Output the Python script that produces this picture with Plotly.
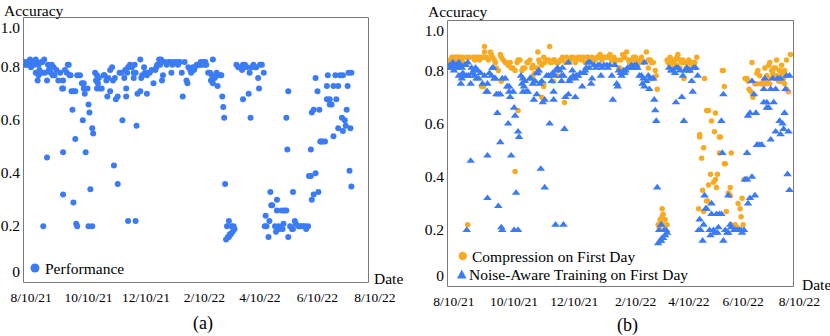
import pandas as pd
import plotly.graph_objects as go

# ---- data (day offsets from 8/10/21, accuracy) ----
START = pd.Timestamp("2021-08-10")

PERF_DAY = [
    -6, -4, -2, 0, 1, 2, 3, 4, 0, -3,
    -5, 6, 8, 11, 12, 5, 9, 10, 8, 13,
    7, 15, 17, 18, 20, 22, 24, 23, 25, 27,
    29, 31, 33, 34, 34, 36, 38, 40, 39, 41,
    42, 43, 45, 44, 47, 49, 52, 54, 56, 56,
    57, 60, 61, 62, 55, 65, 66, 47, 58, 34,
    17, 68, 70, 69, 70, 73, 75, 71, 72, 77,
    78, 80, 81, 82, 84, 86, 84, 87, 89, 90,
    92, 94, 96, 97, 101, 102, 99, 101, 103, 105,
    107, 109, 109, 110, 111, 112, 113, 116, 117, 118,
    120, 121, 123, 123, 124, 126, 128, 130, 132, 133,
    134, 136, 137, 139, 140, 142, 144, 146, 148, 149,
    150, 152, 155, 156, 158, 160, 161, 163, 165, 166,
    167, 169, 170, 172, 173, 174, 176, 178, 179, 180,
    181, 183, 184, 185, 186, 188, 190, 192, 191, 193,
    193, 195, 197, 198, 199, 201, 202, 203, 204, 205,
    218, 220, 222, 224, 225, 225, 227, 229, 231, 232,
    233, 234, 236, 238, 239, 241, 242, 243, 245, 247,
    271, 272, 273, 297, 298, 300, 302, 304, 306, 307,
    308, 310, 312, 314, 314, 315, 317, 317, 319, 321,
    321, 323, 324, 326, 326, 328, 330, 331, 331, 333,
    334, 335, 336, 337, 339, 340, 116, 138, 13, 34,
    45, 48, 49, 61, 65, 63, 88, 92, 103, 111,
    206, 208, 210, 209, 210, 212, 213, 215, 216, 214,
    211, 207, 248, 249, 250, 254, 252, 253, 255, 256,
    259, 260, 261, 261, 263, 264, 266, 267, 268, 269,
    271, 273, 275, 277, 278, 278, 280, 281, 284, 285,
    287, 289, 291, 292, 294, 295, 297, 298, 300, 302,
    305, 338, 340, -7, -1, 5, 14, 19, 21, 100,
]
PERF_ACC = [
    0.82, 0.83, 0.83, 0.83, 0.82, 0.83, 0.83, 0.82, 0.81, 0.82,
    0.82, 0.83, 0.82, 0.83, 0.83, 0.79, 0.80, 0.79, 0.78, 0.79,
    0.76, 0.79, 0.76, 0.82, 0.81, 0.82, 0.81, 0.78, 0.78, 0.80,
    0.76, 0.79, 0.73, 0.73, 0.76, 0.80, 0.79, 0.82, 0.82, 0.78,
    0.78, 0.72, 0.72, 0.65, 0.72, 0.78, 0.78, 0.75, 0.75, 0.73,
    0.71, 0.73, 0.67, 0.64, 0.61, 0.58, 0.56, 0.54, 0.49, 0.49,
    0.47, 0.79, 0.78, 0.76, 0.73, 0.73, 0.73, 0.75, 0.77, 0.78,
    0.78, 0.76, 0.70, 0.77, 0.80, 0.81, 0.72, 0.76, 0.77, 0.69,
    0.70, 0.79, 0.79, 0.61, 0.73, 0.79, 0.77, 0.70, 0.81, 0.82,
    0.81, 0.79, 0.77, 0.82, 0.79, 0.59, 0.71, 0.72, 0.77, 0.78,
    0.81, 0.79, 0.78, 0.71, 0.79, 0.79, 0.80, 0.75, 0.80, 0.81,
    0.82, 0.84, 0.82, 0.76, 0.78, 0.83, 0.82, 0.83, 0.83, 0.79,
    0.82, 0.83, 0.83, 0.82, 0.83, 0.79, 0.70, 0.83, 0.76, 0.75,
    0.81, 0.80, 0.79, 0.81, 0.80, 0.81, 0.82, 0.82, 0.82, 0.83,
    0.82, 0.83, 0.82, 0.83, 0.82, 0.79, 0.79, 0.78, 0.76, 0.84,
    0.75, 0.77, 0.79, 0.74, 0.78, 0.78, 0.78, 0.70, 0.66, 0.62,
    0.82, 0.81, 0.81, 0.80, 0.69, 0.82, 0.82, 0.81, 0.71, 0.79,
    0.62, 0.81, 0.82, 0.81, 0.81, 0.77, 0.73, 0.82, 0.82, 0.79,
    0.62, 0.50, 0.72, 0.50, 0.64, 0.65, 0.77, 0.72, 0.65, 0.53,
    0.53, 0.53, 0.53, 0.69, 0.74, 0.78, 0.67, 0.69, 0.67, 0.55,
    0.74, 0.78, 0.69, 0.74, 0.58, 0.78, 0.62, 0.78, 0.57, 0.61,
    0.59, 0.65, 0.74, 0.79, 0.58, 0.79, 0.84, 0.84, 0.21, 0.33,
    0.30, 0.22, 0.21, 0.21, 0.21, 0.35, 0.44, 0.37, 0.23, 0.23,
    0.37, 0.21, 0.23, 0.17, 0.17, 0.18, 0.21, 0.21, 0.20, 0.19,
    0.18, 0.16, 0.21, 0.25, 0.21, 0.34, 0.17, 0.23, 0.29, 0.29,
    0.21, 0.19, 0.31, 0.27, 0.21, 0.20, 0.27, 0.20, 0.22, 0.27,
    0.27, 0.17, 0.21, 0.20, 0.34, 0.20, 0.23, 0.22, 0.21, 0.21,
    0.21, 0.21, 0.21, 0.20, 0.21, 0.40, 0.40, 0.31, 0.33, 0.41,
    0.34, 0.42, 0.36, 0.83, 0.84, 0.84, 0.84, 0.80, 0.79, 0.80,
]

COMP_DAY = [
    -6, -4, -2, -1, 1, 3, 4, 6, 8, 9,
    -2, 1, 5, 9, 13, 16, 20, 21, 23, 25,
    26, 28, 30, 31, 31, 33, 35, 37, 38, 39,
    41, 42, 43, 45, 47, 48, 50, 52, 53, 55,
    57, 58, 60, 62, 64, 65, 67, 69, 70, 72,
    74, 75, 77, 79, 80, 82, 84, 85, 86, 87,
    89, 91, 92, 94, 96, 97, 98, 99, 101, 102,
    104, 106, 108, 109, 110, 113, 114, 116, 118, 119,
    121, 123, 124, 126, 128, 129, 131, 133, 135, 136,
    138, 140, 141, 143, 145, 146, 148, 150, 151, 153,
    155, 157, 158, 160, 162, 163, 165, 167, 168, 169,
    171, 173, 175, 177, 178, 180, 182, 184, 185, 187,
    189, 190, 192, 195, 197, 199, 200, 202, 197, 204,
    205, 206, 6, 28, 30, 48, 65, 80, 82, 86,
    89, 91, 91, 97, 101, 105, 112, 168, 14, 62,
    216, 217, 219, 221, 222, 224, 226, 227, 229, 231,
    232, 234, 236, 238, 239, 241, 243, 244, 246, 219,
    222, 226, 229, 236, 239, 233, 239, 254, 256, 258,
    265, 261, 249, 249, 253, 251, 264, 269, 270, 274,
    269, 281, 274, 272, 273, 295, 297, 298, 299, 301,
    303, 302, 305, 307, 307, 308, 310, 312, 314, 315,
    317, 319, 320, 322, 324, 325, 327, 329, 330, 332,
    334, 335, 337, 339, 341, 337, 323, 320, 315, 311,
    317, 324, 328, 331, 333, 335, 319, 326, 207, 209,
    211, 211, 212, 214, 216, 212, 209, 208, 260, 265,
    267, 263, 258, 266, 275, 252, 256, 248, 253, 257,
    276, 278, 280, 280, 288, 290, 291, 292, 294, 281,
    285, 287, 293,
]
COMP_ACC = [
    0.84, 0.85, 0.86, 0.86, 0.86, 0.86, 0.86, 0.86, 0.85, 0.86,
    0.84, 0.84, 0.85, 0.84, 0.86, 0.86, 0.86, 0.85, 0.86, 0.86,
    0.85, 0.86, 0.86, 0.88, 0.90, 0.86, 0.85, 0.88, 0.87, 0.86,
    0.85, 0.84, 0.82, 0.81, 0.87, 0.86, 0.85, 0.84, 0.84, 0.83,
    0.84, 0.82, 0.82, 0.81, 0.84, 0.85, 0.85, 0.81, 0.82, 0.82,
    0.84, 0.84, 0.85, 0.82, 0.83, 0.80, 0.82, 0.88, 0.85, 0.84,
    0.83, 0.86, 0.84, 0.85, 0.85, 0.90, 0.84, 0.84, 0.85, 0.85,
    0.84, 0.84, 0.85, 0.85, 0.86, 0.84, 0.86, 0.84, 0.85, 0.86,
    0.86, 0.84, 0.85, 0.86, 0.86, 0.85, 0.86, 0.84, 0.86, 0.86,
    0.85, 0.86, 0.85, 0.85, 0.86, 0.86, 0.87, 0.85, 0.86, 0.86,
    0.86, 0.86, 0.87, 0.85, 0.86, 0.84, 0.85, 0.82, 0.82, 0.85,
    0.87, 0.86, 0.88, 0.85, 0.84, 0.85, 0.86, 0.86, 0.85, 0.84,
    0.85, 0.86, 0.84, 0.88, 0.85, 0.85, 0.84, 0.84, 0.82, 0.81,
    0.79, 0.74, 0.79, 0.75, 0.75, 0.77, 0.66, 0.79, 0.77, 0.80,
    0.71, 0.75, 0.76, 0.79, 0.77, 0.79, 0.69, 0.81, 0.23, 0.43,
    0.85, 0.84, 0.86, 0.85, 0.84, 0.85, 0.86, 0.87, 0.85, 0.84,
    0.85, 0.84, 0.84, 0.85, 0.84, 0.84, 0.83, 0.84, 0.86, 0.83,
    0.82, 0.83, 0.82, 0.82, 0.82, 0.78, 0.81, 0.78, 0.66, 0.66,
    0.65, 0.62, 0.57, 0.56, 0.52, 0.48, 0.58, 0.56, 0.56, 0.75,
    0.50, 0.50, 0.46, 0.81, 0.81, 0.78, 0.78, 0.77, 0.74, 0.73,
    0.71, 0.84, 0.76, 0.76, 0.80, 0.81, 0.79, 0.76, 0.77, 0.82,
    0.79, 0.83, 0.84, 0.81, 0.82, 0.78, 0.85, 0.77, 0.81, 0.83,
    0.78, 0.76, 0.74, 0.73, 0.87, 0.85, 0.80, 0.76, 0.76, 0.76,
    0.76, 0.79, 0.79, 0.77, 0.80, 0.81, 0.78, 0.82, 0.23, 0.24,
    0.26, 0.29, 0.27, 0.25, 0.23, 0.23, 0.25, 0.22, 0.42, 0.40,
    0.42, 0.39, 0.38, 0.37, 0.46, 0.36, 0.32, 0.29, 0.28, 0.32,
    0.28, 0.35, 0.37, 0.34, 0.31, 0.29, 0.26, 0.33, 0.40, 0.23,
    0.23, 0.22, 0.23,
]

TICK_LABELS = ["8/10/21", "10/10/21", "12/10/21", "2/10/22", "4/10/22", "6/10/22", "8/10/22"]
TICK_DAYS_A = [0, 61, 122, 184, 243, 304, 365]
# panel (b) labels sit where the original drew them
TICK_DAYS_B = [0, 61, 122, 184, 238, 293, 350]
Y_TICKS = [0, 0.2, 0.4, 0.6, 0.8, 1.0]
Y_LABELS = ["0", "0.2", "0.4", "0.6", "0.8", "1.0"]

# ---- styling ----
W, H = 830, 336
FONT = "Liberation Serif"
BLUE = "#3B7BF6"
ORANGE = "#F8AB22"
FRAME = "#7a7a7a"


def d2t(d):
    return (START + pd.to_timedelta(d, unit="D")).isoformat()


def px(x):
    return x / W


def py(y):
    return 1 - y / H


def dates(days):
    return START + pd.to_timedelta(days, unit="D")


fig = go.Figure()
fig.add_trace(go.Scatter(x=dates(PERF_DAY), y=PERF_ACC, mode="markers", xaxis="x", yaxis="y",
                         marker=dict(color=BLUE, size=6, line=dict(width=0)), name="Performance"))
fig.add_trace(go.Scatter(x=dates(COMP_DAY), y=COMP_ACC, mode="markers", xaxis="x2", yaxis="y2",
                         marker=dict(color=ORANGE, size=5.5, line=dict(width=0)),
                         name="Compression on First Day"))
fig.add_trace(go.Scatter(x=dates(PERF_DAY), y=PERF_ACC, mode="markers", xaxis="x2", yaxis="y2",
                         marker=dict(color=BLUE, size=7.5, symbol="triangle-up", line=dict(width=0)),
                         name="Noise-Aware Training on First Day"))
# empty traces so the overlay axes carrying the end labels get drawn
for xa, ya_name in (("x", "y3"), ("x", "y4"), ("x2", "y5"), ("x2", "y6")):
    fig.add_trace(go.Scatter(x=[], y=[], xaxis=xa, yaxis=ya_name, mode="markers",
                             showlegend=False, hoverinfo="skip"))

xcommon = dict(type="date", showgrid=False, zeroline=False, showline=False, ticks="",
               automargin=False, ticklabelstandoff=5,
               tickfont=dict(family=FONT, size=13.5, color="black"), ticktext=TICK_LABELS)
ycommon = dict(range=[0, 1], showgrid=False, zeroline=False, showline=False, ticks="",
               automargin=False, ticklabelstandoff=2,
               tickfont=dict(family=FONT, size=15.5, color="black"))

Y_DOM_A = [py(282), py(17)]
Y_DOM_B = [py(286), py(20)]


def y_axes(dom, anchor, overlay):
    # middle labels on the main axis; end labels tucked inside the frame on overlays
    main = dict(ycommon, domain=dom, anchor=anchor, tickvals=Y_TICKS[1:-1],
                ticktext=Y_LABELS[1:-1], ticklabelshift=-3)
    low = dict(ycommon, domain=dom, anchor=anchor, overlaying=overlay, tickvals=Y_TICKS[:1],
               ticktext=Y_LABELS[:1], ticklabelposition="outside top")
    high = dict(ycommon, domain=dom, anchor=anchor, overlaying=overlay, tickvals=Y_TICKS[-1:],
                ticktext=Y_LABELS[-1:], ticklabelposition="outside bottom")
    return main, low, high


ya, ya_lo, ya_hi = y_axes(Y_DOM_A, "x", "y")
yb, yb_lo, yb_hi = y_axes(Y_DOM_B, "x2", "y2")

fig.update_layout(
    width=W, height=H, margin=dict(l=0, r=0, t=0, b=0, autoexpand=False),
    paper_bgcolor="white", plot_bgcolor="white", showlegend=False,
    font=dict(family=FONT, color="black"),
    xaxis=dict(xcommon, domain=[px(23), px(392)], range=[d2t(-8.5), d2t(383.1)],
               tickvals=[d2t(d) for d in TICK_DAYS_A], anchor="y"),
    yaxis=ya, yaxis3=ya_lo, yaxis4=ya_hi,
    xaxis2=dict(xcommon, domain=[px(447), px(825)], range=[d2t(-7.0), d2t(376.0)],
                tickvals=[d2t(d) for d in TICK_DAYS_B], anchor="y2"),
    yaxis2=yb, yaxis5=yb_lo, yaxis6=yb_hi,
)

shapes = [
    dict(type="rect", xref="paper", yref="paper", layer="above",
         x0=px(23.5), x1=px(368.5), y0=py(282.5), y1=py(17.5), line=dict(color=FRAME, width=1)),
    dict(type="rect", xref="paper", yref="paper", layer="above",
         x0=px(447.5), x1=px(793.5), y0=py(286.5), y1=py(20.5), line=dict(color=FRAME, width=1)),
    # legend markers
    dict(type="circle", xref="paper", yref="paper", x0=px(30.5), x1=px(39.5), y0=py(272.5), y1=py(263.5),
         fillcolor=BLUE, line=dict(width=0)),
    dict(type="circle", xref="paper", yref="paper", x0=px(458.5), x1=px(467), y0=py(260.3), y1=py(251.7),
         fillcolor=ORANGE, line=dict(width=0)),
    dict(type="path", xref="paper", yref="paper",
         path=f"M {px(457)} {py(278.5)} L {px(466.5)} {py(278.5)} L {px(461.7)} {py(269.5)} Z",
         fillcolor=BLUE, line=dict(width=0)),
]


def note(text, x, y, size=15.5, xanchor="left"):
    return dict(text=text, x=px(x), y=py(y), xref="paper", yref="paper", showarrow=False,
                xanchor=xanchor, yanchor="middle", font=dict(family=FONT, size=size, color="black"))


annotations = [
    note("Accuracy", 2, 10),
    note("Accuracy", 426, 12),
    note("Date", 372, 278),
    note("Date", 800, 284),
    note("(a)", 203, 323, size=18, xanchor="center"),
    note("(b)", 627, 325, size=18, xanchor="center"),
    note("Performance", 43, 268),
    note("Compression on First Day", 470, 256),
    note("Noise-Aware Training on First Day", 467, 274),
]

fig.update_layout(shapes=shapes, annotations=annotations)
fig.write_html("out.html", config={"displayModeBar": False},
               post_script="document.body.style.margin='0';")
